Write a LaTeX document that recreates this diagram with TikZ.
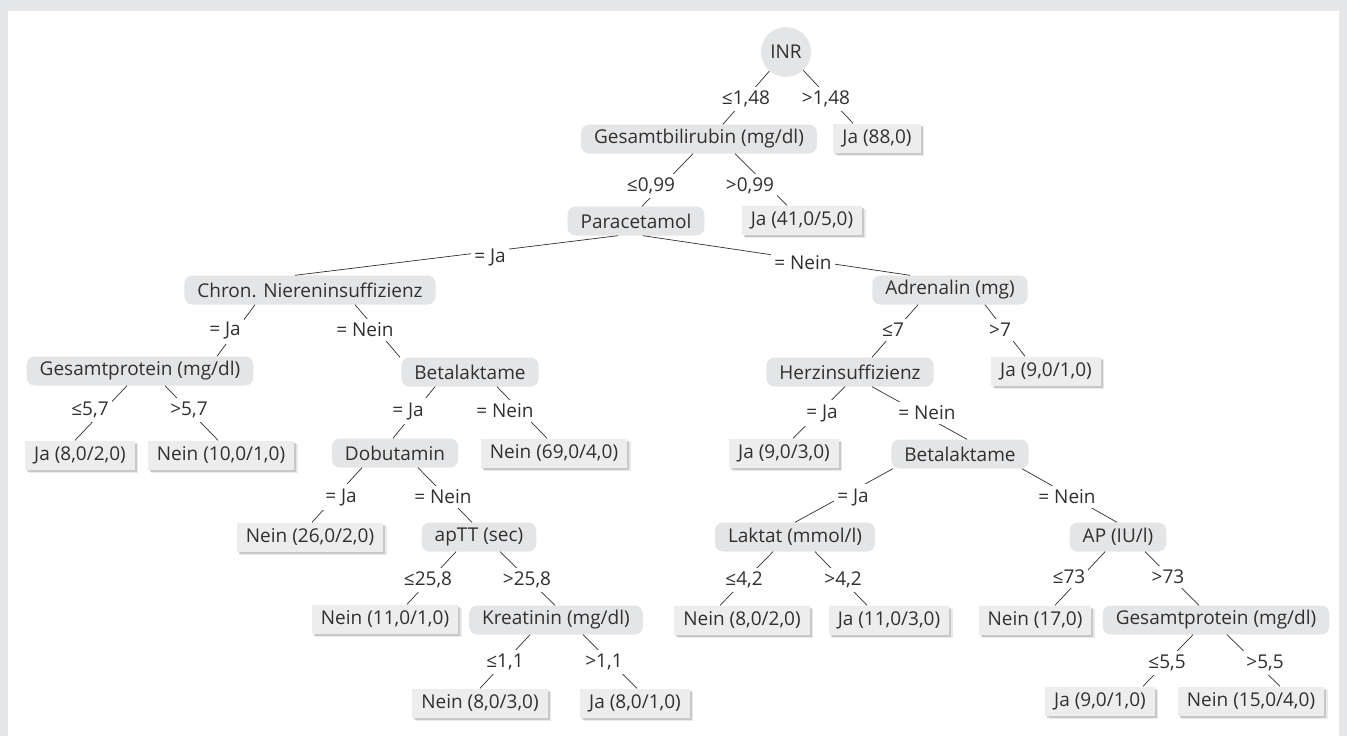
\documentclass[tikz,border=0pt]{standalone}
\usepackage{fontspec}
\setmainfont{Open Sans}
\usetikzlibrary{shadows}
\definecolor{rahmen}{HTML}{E6E7E9}
\definecolor{knoten}{HTML}{E4E5E7}
\definecolor{blattgrau}{HTML}{EDEDED}
\definecolor{schrift}{HTML}{303030}

\tikzset{
    innen/.style={
        fill=knoten,
        rounded corners=8pt,
        minimum height=29pt,
        inner xsep=13pt,
        text=schrift
    },
    blatt/.style={
        fill=blattgrau,
        minimum height=29pt,
        inner xsep=9pt,
        text=schrift,
        drop shadow={shadow xshift=3.5pt, shadow yshift=-3.5pt, opacity=.12, fill=black!70},
        drop shadow={shadow xshift=2pt, shadow yshift=-2pt, opacity=.25, fill=black!60}
    },
    bed/.style={
        fill=white,
        inner xsep=3pt,
        inner ysep=4pt,
        text=schrift
    },
    kante/.style={
        line width=0.7pt,
        schrift
    }
}

\begin{document}
\begin{tikzpicture}[x=1pt, y=-1pt, font=\fontsize{19}{22}\selectfont]

% ---------------- RAHMEN ----------------
\useasboundingbox (0,0) rectangle (1347,736);
\fill[rahmen] (0,0) rectangle (1347,736);
\fill[white] (8,11) rectangle (1339,736);

% ---------------- KNOTEN ----------------
\node[
    circle,
    fill=knoten,
    minimum size=50pt,
    inner sep=0pt,
    text=schrift
] (inr) at (786,52) {INR};

\node[innen] (bili) at (699,139) {Gesamtbilirubin (mg/dl)};
\node[blatt] (ja88) at (877,138) {Ja (88,0)};

\node[innen] (para) at (636,221) {Paracetamol};
\node[blatt] (ja41) at (802,220) {Ja (41,0/5,0)};

\node[innen] (niere) at (310,290) {Chron. Niereninsuffizienz};
\node[innen] (adren) at (950,290) {Adrenalin (mg)};

\node[innen] (gprotA) at (140,371) {Gesamtprotein (mg/dl)};
\node[innen] (betaA) at (470,372) {Betalaktame};
\node[innen] (herz) at (850,372) {Herzinsuffizienz};
\node[blatt] (ja9a) at (1046,371) {Ja (9,0/1,0)};

\node[blatt] (ja8a) at (80,455) {Ja (8,0/2,0)};
\node[blatt] (nein10) at (221,455) {Nein (10,0/1,0)};
\node[innen] (dobu) at (395,453) {Dobutamin};
\node[blatt] (nein69) at (554,453) {Nein (69,0/4,0)};
\node[blatt] (ja9b) at (784,453) {Ja (9,0/3,0)};
\node[innen] (betaB) at (960,454) {Betalaktame};

\node[blatt] (nein26) at (310,537) {Nein (26,0/2,0)};
\node[innen] (aptt) at (479,537) {apTT (sec)};
\node[innen] (laktat) at (795,537) {Laktat (mmol/l)};
\node[innen] (ap) at (1118,537) {AP (IU/l)};

\node[blatt] (nein11) at (385,619) {Nein (11,0/1,0)};
\node[innen] (krea) at (556,620) {Kreatinin (mg/dl)};
\node[blatt] (nein8a) at (742,620) {Nein (8,0/2,0)};
\node[blatt] (ja11) at (889,620) {Ja (11,0/3,0)};
\node[blatt] (nein17) at (1035,620) {Nein (17,0)};
\node[innen] (gprotB) at (1216,620) {Gesamtprotein (mg/dl)};

\node[blatt] (nein8b) at (480,703) {Nein (8,0/3,0)};
\node[blatt] (ja8b) at (635,703) {Ja (8,0/1,0)};
\node[blatt] (ja9c) at (1100,701) {Ja (9,0/1,0)};
\node[blatt] (nein15) at (1251,701) {Nein (15,0/4,0)};

% ---------------- KANTEN ----------------
\draw[kante] (inr) -- ([xshift=24pt]bili.north);
\draw[kante] (inr) -- ([xshift=-24pt]ja88.north);
\draw[kante] ([xshift=-6pt]bili.south) -- ([xshift=6pt]para.north);
\draw[kante] ([xshift=36pt]bili.south) -- ([xshift=-15pt]ja41.north);
\draw[kante] ([xshift=-18pt]para.south) -- ([xshift=-15pt]niere.north);
\draw[kante] ([xshift=7pt]para.south) -- ([xshift=-40pt]adren.north);
\draw[kante] ([xshift=-55pt]niere.south) -- ([xshift=77pt]gprotA.north);
\draw[kante] ([xshift=45pt]niere.south) -- ([xshift=-70pt]betaA.north);
\draw[kante] ([xshift=-32pt]adren.south) -- ([xshift=22pt]herz.north);
\draw[kante] ([xshift=35pt]adren.south) -- ([xshift=-21pt]ja9a.north);
\draw[kante] ([xshift=-13pt]gprotA.south) -- ([xshift=-5pt]ja8a.north);
\draw[kante] ([xshift=25pt]gprotA.south) -- ([xshift=-3pt]nein10.north);
\draw[kante] ([xshift=-35pt]betaA.south) -- ([xshift=-2pt]dobu.north);
\draw[kante] ([xshift=27pt]betaA.south) -- ([xshift=-7pt]nein69.north);
\draw[kante] ([xshift=-5pt]herz.south) -- ([xshift=9pt]ja9b.north);
\draw[kante] ([xshift=22pt]herz.south) -- ([xshift=7pt]betaB.north);
\draw[kante] ([xshift=-33pt]dobu.south) -- ([xshift=2pt]nein26.north);
\draw[kante] ([xshift=23pt]dobu.south) -- ([xshift=-7pt]aptt.north);
\draw[kante] ([xshift=-67pt]betaB.south) -- (laktat.north);
\draw[kante] ([xshift=62pt]betaB.south) -- ([xshift=-1pt]ap.north);
\draw[kante] ([xshift=-23pt]aptt.south) -- ([xshift=22pt]nein11.north);
\draw[kante] ([xshift=21pt]aptt.south) -- ([xshift=-1pt]krea.north);
\draw[kante] ([xshift=-22pt]laktat.south) -- ([xshift=-22pt]nein8a.north);
\draw[kante] ([xshift=20pt]laktat.south) -- ([xshift=-22pt]ja11.north);
\draw[kante] ([xshift=-13pt]ap.south) -- ([xshift=20pt]nein17.north);
\draw[kante] ([xshift=27pt]ap.south) -- ([xshift=-17pt]gprotB.north);
\draw[kante] ([xshift=-26pt]krea.south) -- (nein8b.north);
\draw[kante] ([xshift=27pt]krea.south) -- ([xshift=2pt]ja8b.north);
\draw[kante] ([xshift=-23pt]gprotB.south) -- ([xshift=43pt]ja9c.north);
\draw[kante] ([xshift=11pt]gprotB.south) -- ([xshift=29pt]nein15.north);

% ---------------- BEDINGUNGEN ----------------
\node[bed] (le148) at (746,99) {≤1,48};
\node[bed] (gt148) at (826,99) {>1,48};
\node[bed] (le099) at (651,186) {≤0,99};
\node[bed] (gt099) at (750,186) {>0,99};
\node[bed] (paraJa) at (490,258) {= Ja};
\node[bed] (paraNein) at (803,263) {= Nein};
\node[bed] (niereJa) at (225,331) {= Ja};
\node[bed] (niereNein) at (365,330) {= Nein};
\node[bed] (le7) at (893,330) {≤7};
\node[bed] (gt7) at (1000,330) {>7};
\node[bed] (le57) at (90,410) {≤5,7};
\node[bed] (gt57) at (189,410) {>5,7};
\node[bed] (betaAJa) at (408,411) {= Ja};
\node[bed] (betaANein) at (505,411) {= Nein};
\node[bed] (herzJa) at (822,413) {= Ja};
\node[bed] (herzNein) at (927,413) {= Nein};
\node[bed] (dobuJa) at (341,497) {= Ja};
\node[bed] (dobuNein) at (443,497) {= Nein};
\node[bed] (betaBJa) at (853,497) {= Ja};
\node[bed] (betaBNein) at (1067,497) {= Nein};
\node[bed] (le258) at (428,580) {≤25,8};
\node[bed] (gt258) at (527,580) {>25,8};
\node[bed] (le42) at (744,580) {≤4,2};
\node[bed] (gt42) at (843,580) {>4,2};
\node[bed] (le73) at (1069,577) {≤73};
\node[bed] (gt73) at (1168,577) {>73};
\node[bed] (le11) at (505,662) {≤1,1};
\node[bed] (gt11) at (604,662) {>1,1};
\node[bed] (le55) at (1167,663) {≤5,5};
\node[bed] (gt55) at (1265,663) {>5,5};

\end{tikzpicture}
\end{document}
